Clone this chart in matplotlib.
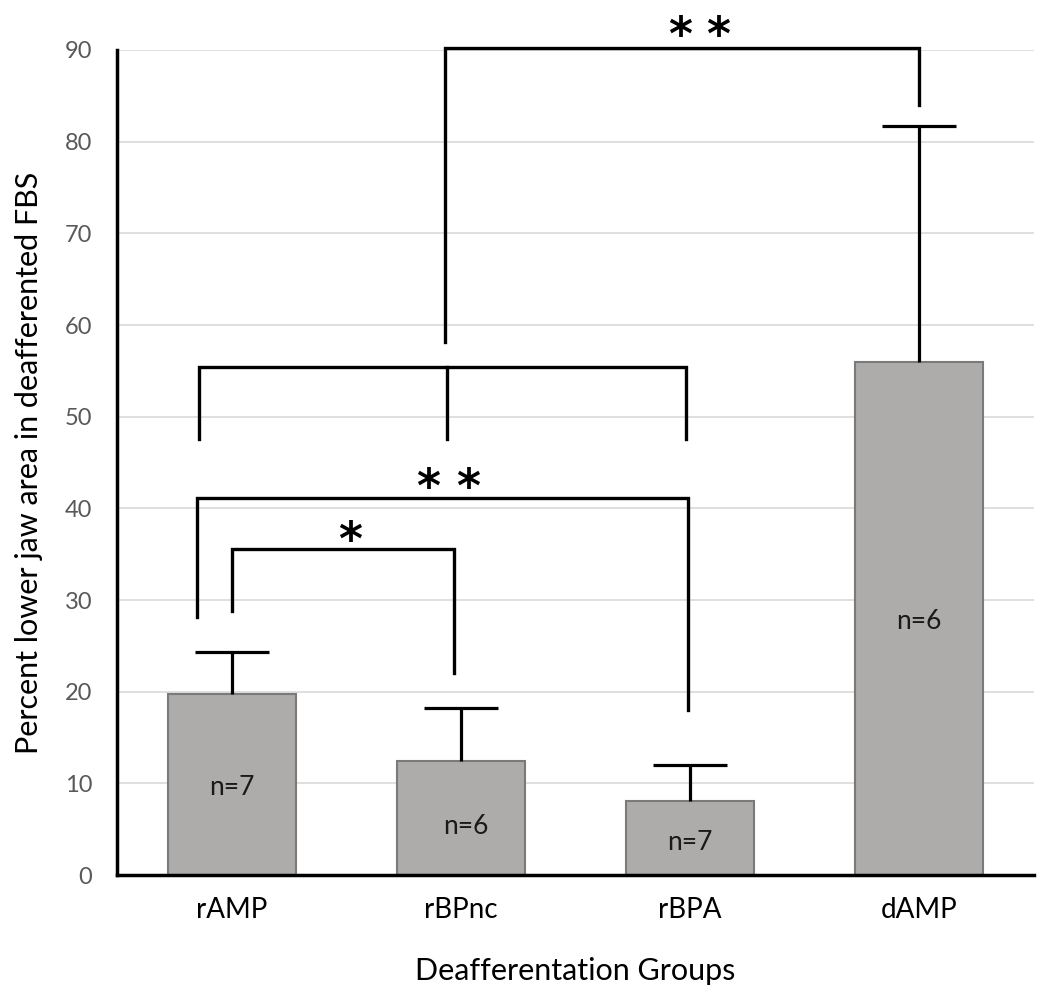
import matplotlib
matplotlib.use("Agg")
import matplotlib.pyplot as plt

plt.rcParams['font.family'] = ['Lato', 'DejaVu Sans']

groups = ["rAMP", "rBPnc", "rBPA", "dAMP"]
means = [19.8, 12.4, 8.07, 56.0]
err_upper = [4.5, 5.8, 3.9, 25.7]
n_labels = ["n=7", "n=6", "n=7", "n=6"]
n_label_y = [9.5, 5.3, 3.6, 27.7]
yticks = [0, 10, 20, 30, 40, 50, 60, 70, 80, 90]

# significance brackets: (x_left, x_right, y_top, y_left_end, y_right_end)
brackets = [
    (0.93, 3.0, 90.2, 58.1, 84.0),
    (-0.144, 1.983, 55.4, 47.6, 47.6),
    (-0.154, 1.99, 41.1, 28.2, 18.0),
    (0.0, 0.969, 35.6, 28.8, 22.0),
]
mid_leg = (0.938, 55.4, 47.6)
# individual asterisks (x, y of glyph centre)
star_x = [1.956, 2.122, 0.856, 1.031, 0.515]
star_y = [92.5, 92.5, 43.1, 43.1, 37.4]

fig = plt.figure(figsize=(10.5, 9.98), dpi=100)
ax = fig.add_axes([0.1119, 0.1232, 0.8724, 0.8267])

x = list(range(len(groups)))
ax.bar(x, means, width=0.555, color="#aeabab", edgecolor="#7a7a7a", linewidth=1.5, zorder=2)

tops = [m + e for m, e in zip(means, err_upper)]
cap = 0.16
ax.vlines(x, means, tops, color="black", lw=2.3, zorder=3)
ax.hlines(tops, [xi - cap for xi in x], [xi + cap for xi in x], color="black", lw=2.3, zorder=3)

for xi, lab, yy in zip(x, n_labels, n_label_y):
    ax.text(xi + (0.02 if xi == 1 else 0), yy, lab, ha="center", va="center",
            fontsize=19, color="#1a1a1a", zorder=4)

lw = 2.4
for xl, xr, yt, yl, yr in brackets:
    ax.plot([xl, xl, xr, xr], [yl, yt, yt, yr], color="black", lw=lw,
            solid_joinstyle="miter", clip_on=False, zorder=5)
ax.plot([mid_leg[0], mid_leg[0]], [mid_leg[1], mid_leg[2]], color="black", lw=lw, zorder=5)

fs_star = 33
for sx, sy in zip(star_x, star_y):
    ax.annotate("*", xy=(sx, sy), xytext=(0, -0.49 * fs_star), textcoords="offset points",
                ha="center", va="baseline", fontsize=fs_star, fontweight="bold",
                family="DejaVu Sans", color="black", annotation_clip=False, zorder=6)

ax.set_xlim(-0.5, 3.5)
ax.set_ylim(0, 90)
ax.set_yticks(yticks)
ax.set_xticks(x)
ax.set_xticklabels(groups, fontsize=20)
ax.tick_params(axis="y", length=0, pad=18, labelsize=17, labelcolor="#595959")
ax.tick_params(axis="x", length=0, pad=16)
ax.yaxis.grid(True, color="#d9d9d9", linewidth=1.2, zorder=0)
ax.set_axisbelow(True)
for sp in ["top", "right"]:
    ax.spines[sp].set_visible(False)
ax.spines["left"].set_linewidth(2.5)
ax.spines["bottom"].set_linewidth(2.5)

ax.set_ylabel("Percent lower jaw area in deafferented FBS", fontsize=22, labelpad=16)
ax.set_xlabel("Deafferentation Groups", fontsize=22, labelpad=24)

fig.savefig("out.png", dpi=100)
